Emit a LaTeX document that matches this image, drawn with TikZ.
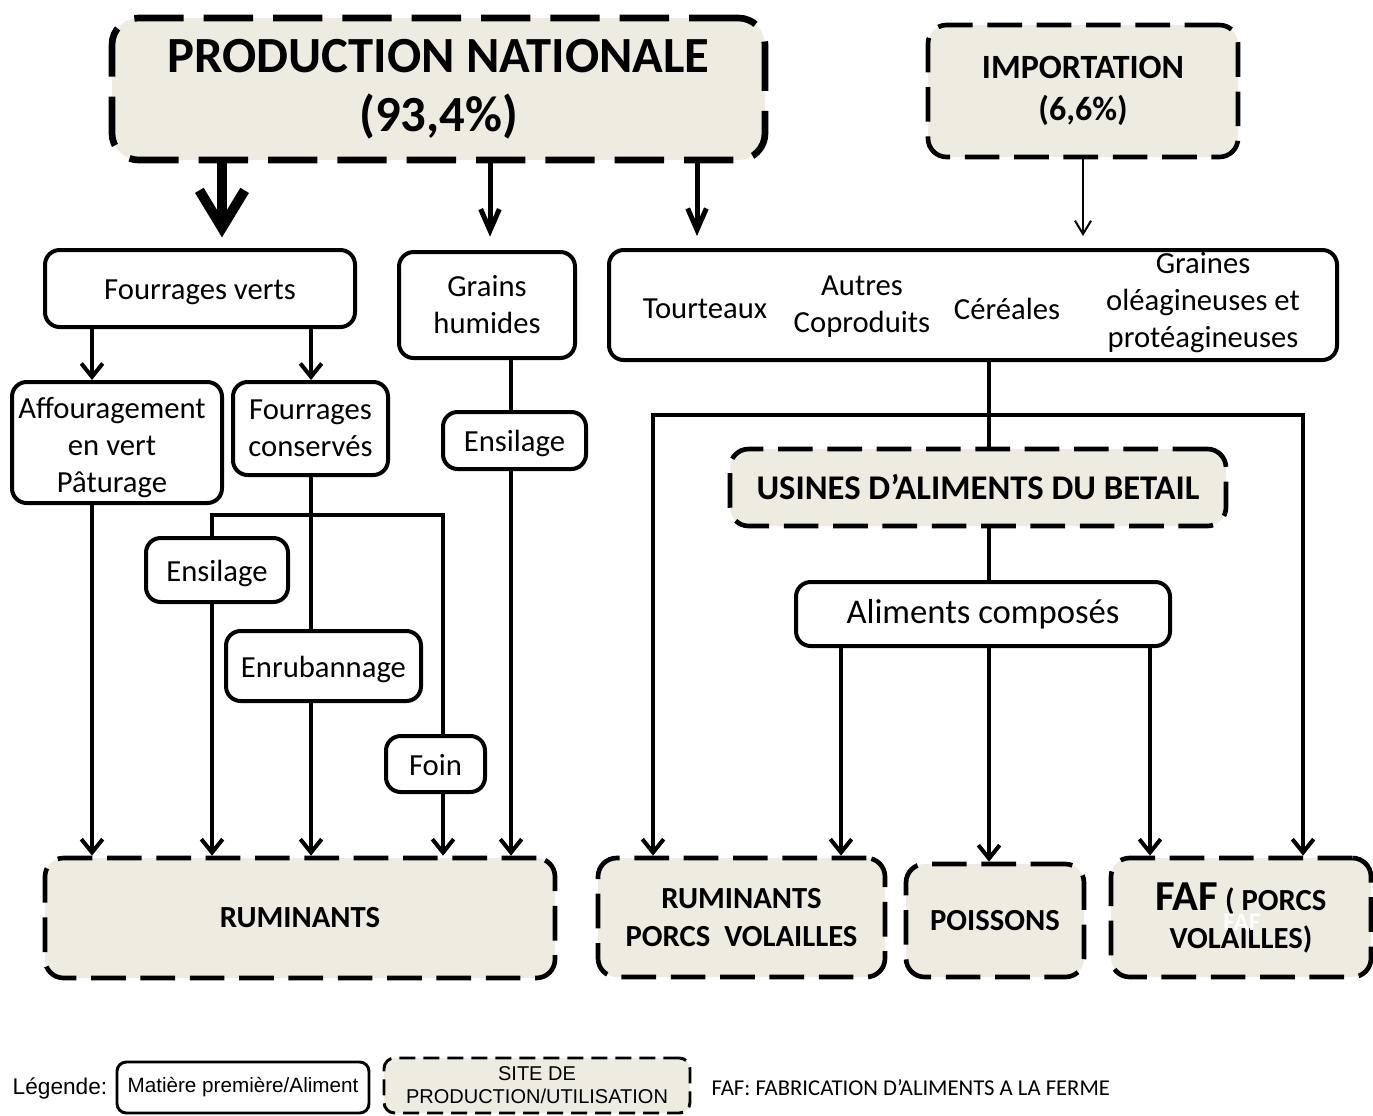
\documentclass[tikz,border=0pt]{standalone}
\usepackage{fontspec}
\setmainfont{Carlito}
\newfontfamily\legendfont{Liberation Sans}
\usetikzlibrary{arrows.meta}
\definecolor{sitebg}{RGB}{238,236,225}

\tikzset{
  matiere/.style={draw, line width=3pt, rounded corners=11pt, align=center,
    font=\fontsize{23}{27.75}\selectfont},
  ligne/.style={text height=22pt, text depth=5pt},
  site/.style={draw, fill=sitebg, line width=3.5pt, rounded corners=14pt,
    dash pattern=on 26pt off 11pt, align=center,
    font=\fontsize{23}{28.5}\selectfont\bfseries},
  texte/.style={align=center, font=\fontsize{23}{27.75}\selectfont},
  lien/.style={line width=3pt},
  fleche/.style={line width=3pt, -{Straight Barb[length=10pt,width=16pt]}},
}

\begin{document}
\begin{tikzpicture}[x=0.75pt,y=-0.75pt]
\useasboundingbox (0,0) rectangle (1373,1115);

% sources
\node[site, line width=5pt, dash pattern=on 37pt off 15pt, rounded corners=20pt,
  minimum width=489.75pt, minimum height=106.5pt,
  font=\fontsize{38}{44}\selectfont\bfseries] (prod) at (438.5,89)
  {PRODUCTION NATIONALE\\(93,4\%)};
\node[site, minimum width=232.5pt, minimum height=99pt,
  font=\fontsize{25.5}{31}\selectfont\bfseries] (imp) at (1083,91)
  {IMPORTATION\\(6,6\%)};

% matieres premieres
\node[matiere, ligne, minimum width=232.5pt, minimum height=57.75pt] (fv) at (200,288.5) {Fourrages verts};
\node[matiere, minimum width=132pt, minimum height=79.5pt] (gh) at (487,305) {Grains\\humides};
\node[matiere, minimum width=546pt, minimum height=82.5pt] (mp) at (973,305) {};
\node[texte] (tou) at (705,309) {Tourteaux};
\node[texte] (cop) at (862,306.5) {Autres\\Coproduits};
\node[texte] (cer) at (1007,309) {Céréales};
\node[texte] (gra) at (1203,303) {Graines\\oléagineuses et\\protéagineuses};
\node[matiere, minimum width=157.5pt, minimum height=90.75pt] (aff) at (117,442.5) {};
\node[texte] (afft) at (112,448) {Affouragement\\en vert\\Pâturage};
\node[matiere, minimum width=116.25pt, minimum height=69.75pt] (fc) at (310.5,428.5) {Fourrages\\conservés};
\node[matiere, ligne, minimum width=107.25pt, minimum height=42.75pt] (ensB) at (514.5,440.5) {Ensilage};
\node[matiere, ligne, minimum width=106.5pt, minimum height=48pt] (ensA) at (217,570) {Ensilage};
\node[matiere, ligne, minimum width=146.25pt, minimum height=52.5pt] (enr) at (323.5,666) {Enrubannage};
\node[matiere, ligne, minimum width=74.25pt, minimum height=42pt] (foin) at (435.5,764) {Foin};
\node[site, minimum width=372pt, minimum height=57.75pt,
  font=\fontsize{26}{30}\selectfont\bfseries] (usi) at (978,487.5) {USINES D’ALIMENTS DU BETAIL};
\node[matiere, minimum width=280.5pt, minimum height=48pt,
  font=\fontsize{26}{30}\selectfont] (alc) at (983,614) {Aliments composés};

% utilisation
\node[site, minimum width=382.5pt, minimum height=90pt] (rum) at (300,918) {RUMINANTS};
\node[site, minimum width=215.25pt, minimum height=89.25pt] (rpv) at (741.5,917.5) {RUMINANTS\\PORCS\ \ VOLAILLES};
\node[site, minimum width=133.5pt, minimum height=84.75pt] (poi) at (995,920.5) {POISSONS};
\node[site, minimum width=195pt, minimum height=89.25pt] (faf) at (1241,917.5)
  {{\fontsize{32}{32}\selectfont FAF} ( PORCS\\VOLAILLES)};
\node[text=white, font=\fontsize{19}{19}\selectfont\bfseries] (fafb) at (1242,922) {FAF};

% colonnes des fleches
\coordinate (cA) at (222,0);
\coordinate (cB) at (490,0);
\coordinate (cC) at (697,0);
\coordinate (cD) at (92,0);
\coordinate (cE) at (311,0);
\coordinate (cF) at (511,0);
\coordinate (cG) at (212,0);
\coordinate (cH) at (443,0);
\coordinate (cI) at (989,0);
\coordinate (cJ) at (653,0);
\coordinate (cK) at (1303,0);
\coordinate (cL) at (841,0);
\coordinate (cM) at (1150,0);
\coordinate (jFc) at (311,515);
\coordinate (jMp) at (989,415);

\draw[line width=7.5pt, shorten >=8pt, -{Straight Barb[length=28pt,width=34pt]}]
  (prod.south -| cA) -- (fv.north -| cA);
\draw[line width=3.75pt, shorten >=10pt, -{Straight Barb[length=16pt,width=14pt]}]
  (prod.south -| cB) -- (gh.north -| cB);
\draw[line width=3.75pt, shorten >=9pt, -{Straight Barb[length=16pt,width=14pt]}]
  (prod.south -| cC) -- (mp.north -| cC);
\draw[line width=1.5pt, shorten >=9pt, -{Straight Barb[length=10pt,width=12pt]}]
  (imp.south) -- (imp.south |- mp.north);

% fourrages
\draw[fleche] (fv.south -| cD) -- (aff.north -| cD);
\draw[fleche] (fv.south -| cE) -- (fc.north -| cE);
\draw[lien] (gh.south -| cF) -- (ensB.north -| cF);
\draw[fleche] (ensB.south -| cF) -- (rum.north -| cF);
\draw[fleche] (aff.south -| cD) -- (rum.north -| cD);
\draw[lien] (fc.south -| cE) -- (enr.north -| cE);
\draw[lien] (ensA.north -| cG) |- (jFc) -| (foin.north -| cH);
\draw[fleche] (ensA.south -| cG) -- (rum.north -| cG);
\draw[fleche] (enr.south -| cE) -- (rum.north -| cE);
\draw[fleche] (foin.south -| cH) -- (rum.north -| cH);

% aliments
\draw[lien] (mp.south -| cI) -- (usi.north -| cI);
\draw[fleche] (jMp) -| (rpv.north -| cJ);
\draw[fleche] (jMp) -| (faf.north -| cK);
\draw[lien] (usi.south -| cI) -- (alc.north -| cI);
\draw[fleche] (alc.south -| cL) -- (rpv.north -| cL);
\draw[fleche] (alc.south -| cI) -- (poi.north -| cI);
\draw[fleche] (alc.south -| cM) -- (faf.north -| cM);

% legende
\node[font=\legendfont\fontsize{17}{20}\selectfont] (leg) at (60,1088) {Légende:};
\node[matiere, line width=2.2pt, rounded corners=7pt, minimum width=189pt, minimum height=38.25pt,
  font=\legendfont\fontsize{15.5}{18}\selectfont] (legA) at (243,1087.5) {Matière première/Aliment};
\node[site, line width=2.2pt, rounded corners=8pt, dash pattern=on 12pt off 6pt,
  minimum width=229.5pt, minimum height=41.25pt,
  font=\legendfont\fontsize{15}{17.25}\selectfont] (legB) at (537,1085.5) {SITE DE\\PRODUCTION/UTILISATION};
\node[anchor=west, font=\fontsize{17}{20}\selectfont] (legC) at (707,1088) {FAF: FABRICATION D’ALIMENTS A LA FERME};

\end{tikzpicture}
\end{document}
